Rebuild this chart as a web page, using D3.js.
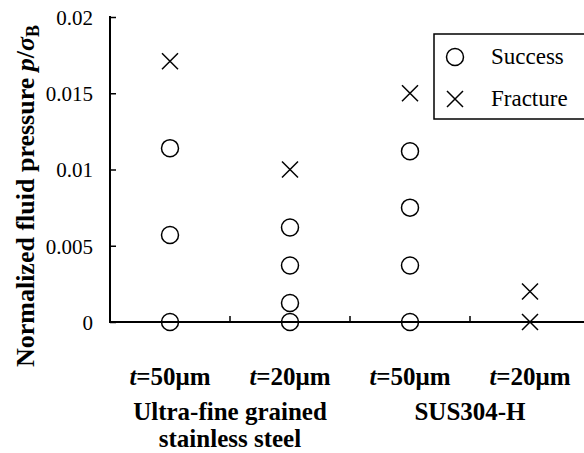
<!DOCTYPE html>
<html><head><meta charset="utf-8">
<script src="https://cdn.jsdelivr.net/npm/d3@7"></script>
</head><body style="margin:0;background:#fff"><svg id="c" width="584" height="453"></svg>
<script>
const categories = ["c1","c2","c3","c4"];
const catLabels = ["=50μm","=20μm","=50μm","=20μm"];
const groupLabels = [["Ultra-fine grained","stainless steel"],["SUS304-H"]];
const successData = [
  {cat:"c1", v:0},{cat:"c1", v:0.0057},{cat:"c1", v:0.0114},
  {cat:"c2", v:0},{cat:"c2", v:0.00125},{cat:"c2", v:0.0037},{cat:"c2", v:0.0062},
  {cat:"c3", v:0},{cat:"c3", v:0.0037},{cat:"c3", v:0.0075},{cat:"c3", v:0.0112}
];
const fractureData = [
  {cat:"c1", v:0.0171},{cat:"c2", v:0.0100},{cat:"c3", v:0.0150},
  {cat:"c4", v:0},{cat:"c4", v:0.0020}
];
const yTicks = [0,0.005,0.01,0.015,0.02];
const yTickLabels = ["0","0.005","0.01","0.015","0.02"];

const FONT = '"Liberation Serif"';
const svg = d3.select("#c");
const x = d3.scaleBand().domain(categories).range([110,590]);
const y = d3.scaleLinear().domain([0,0.02]).range([322,17]);
const cx = c => x(c) + x.bandwidth()/2;

// y axis
const yAxis = d3.axisLeft(y).tickValues(yTicks).tickFormat((d,i)=>yTickLabels[i]).tickSize(-6).tickPadding(17);
const gy = svg.append("g").attr("transform","translate(110,0)").call(yAxis);
gy.select(".domain").remove();
gy.selectAll(".tick line").attr("stroke","#000").attr("stroke-width",1.5);
gy.selectAll(".tick text").style("font-size","21px").attr("fill","#000").attr("dy","0.35em");
svg.append("line").attr("x1",110).attr("x2",110).attr("y1",y(0.02)-1).attr("y2",y(0)+1).attr("stroke","#000").attr("stroke-width",2);

// x axis
svg.append("line").attr("x1",109).attr("x2",590).attr("y1",y(0)).attr("y2",y(0)).attr("stroke","#000").attr("stroke-width",2);
svg.append("g").selectAll("line").data(categories.slice(1)).join("line")
  .attr("x1",d=>x(d)).attr("x2",d=>x(d)).attr("y1",y(0)).attr("y2",y(0)-6).attr("stroke","#000").attr("stroke-width",1.5);

// category labels
const cl = svg.append("g").selectAll("text").data(categories).join("text")
  .attr("x",d=>cx(d)).attr("y",385).attr("text-anchor","middle").style("font-size","25px").style("font-weight","bold");
cl.append("tspan").style("font-style","italic").text("t");
cl.append("tspan").text((d,i)=>catLabels[i]);

// group labels
const gpos = [[cx("c1"),cx("c2")],[cx("c3"),cx("c4")]];
groupLabels.forEach((lines,gi)=>{
  const mx = (gpos[gi][0]+gpos[gi][1])/2;
  lines.forEach((t,li)=>{
    svg.append("text").attr("x",mx).attr("y",420+li*27).attr("text-anchor","middle")
      .style("font-size","25px").style("font-weight","bold").text(t);
  });
});

// y title
const yt = svg.append("text").attr("transform","translate(34,196) rotate(-90)").attr("text-anchor","middle")
  .style("font-size","26px").style("font-weight","bold");
yt.append("tspan").text("Normalized fluid pressure  ");
yt.append("tspan").style("font-style","italic").text("p");
yt.append("tspan").text("/");
yt.append("tspan").style("font-style","italic").text("σ");
yt.append("tspan").style("font-size","18px").attr("dy",5).text("B");

// markers
const r = 8.5, h = 8;
svg.append("g").selectAll("circle").data(successData).join("circle")
  .attr("cx",d=>cx(d.cat)).attr("cy",d=>y(d.v)).attr("r",r)
  .attr("fill","none").attr("stroke","#000").attr("stroke-width",1.5);
const crossPath = (px,py)=>`M${px-h},${py-h}L${px+h},${py+h}M${px-h},${py+h}L${px+h},${py-h}`;
svg.append("g").selectAll("path").data(fractureData).join("path")
  .attr("d",d=>crossPath(cx(d.cat),y(d.v))).attr("fill","none").attr("stroke","#000").attr("stroke-width",1.5);

// legend
const lg = svg.append("g");
lg.append("rect").attr("x",434).attr("y",34).attr("width",160).attr("height",85).attr("fill","#fff").attr("stroke","#000").attr("stroke-width",1.5);
lg.append("circle").attr("cx",455).attr("cy",57).attr("r",r).attr("fill","none").attr("stroke","#000").attr("stroke-width",1.5);
lg.append("path").attr("d",crossPath(455,99)).attr("stroke","#000").attr("stroke-width",1.5);
lg.append("text").attr("x",491).attr("y",64).style("font-size","23px").text("Success");
lg.append("text").attr("x",491).attr("y",106).style("font-size","23px").text("Fracture");

svg.selectAll("text").style("font-family",FONT);
svg.selectAll("tspan").style("font-family",FONT);
</script></body></html>
